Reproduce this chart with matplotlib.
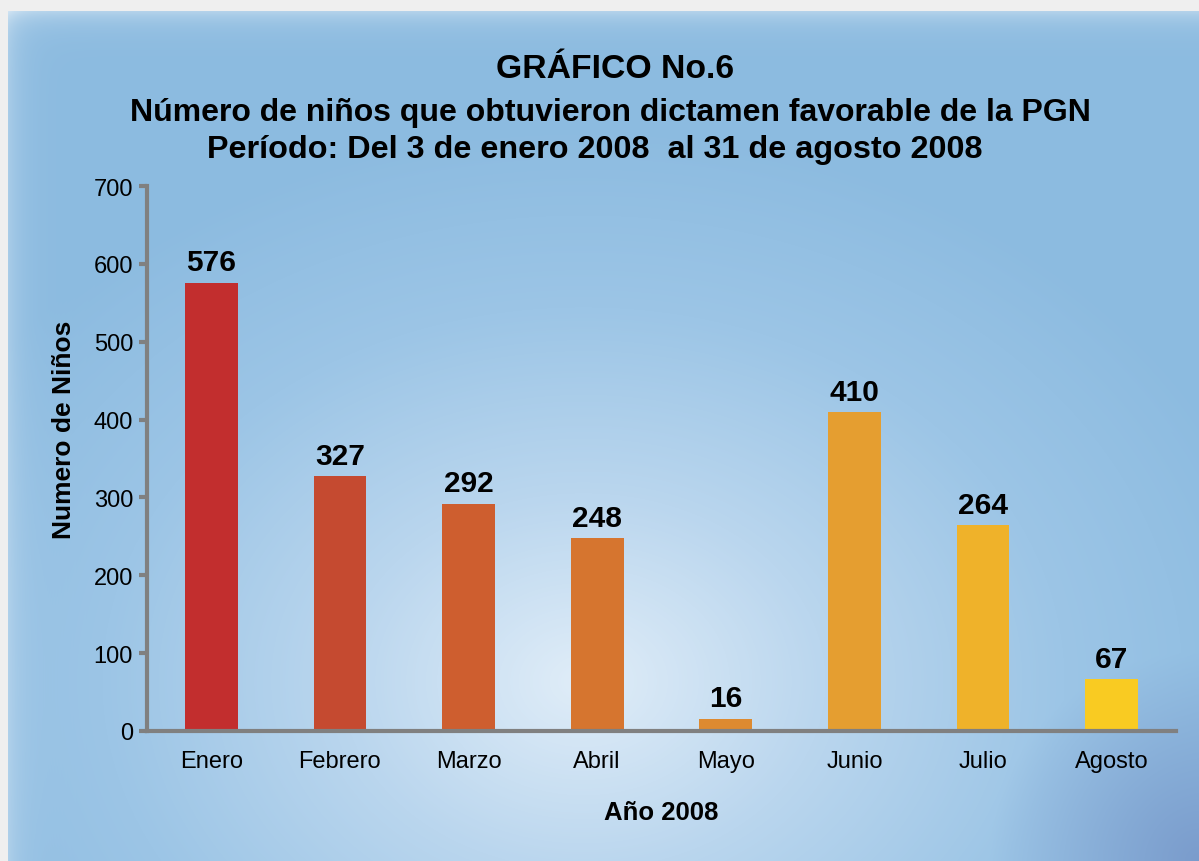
import numpy as np
import matplotlib.pyplot as plt
from matplotlib.colors import LinearSegmentedColormap

plt.rcParams['font.family'] = ['Liberation Sans', 'DejaVu Sans']

meses = ['Enero', 'Febrero', 'Marzo', 'Abril', 'Mayo', 'Junio', 'Julio', 'Agosto']
ninos = [576, 327, 292, 248, 16, 410, 264, 67]
colores = ['#C22E2E', '#C54A30', '#CE5E2F', '#D6752F', '#DD8A30', '#E59E30', '#EFB22A', '#F9CB22']
yticks = [0, 100, 200, 300, 400, 500, 600, 700]

W, H = 1199, 862
fig = plt.figure(figsize=(W / 100, H / 100), dpi=100)
fig.patch.set_facecolor('#EFEFEF')

# background panel with radial gradient
bg = fig.add_axes([8 / W, 0, 1 - 8 / W, 1 - 12 / H])
bg.set_axis_off()
h, w = 850, 1191
yy, xx = np.mgrid[0:h, 0:w]
cx, cy = 575, 670
d = np.sqrt(((xx - cx) / 720.0) ** 2 + ((yy - cy) / 560.0) ** 2)
d = np.clip(d, 0, 1)
cmap = LinearSegmentedColormap.from_list('fondo', ['#E0EDF8', '#BAD6EE', '#9CC5E6', '#8CBBE0'])
img = cmap(d)[..., :3]
# slightly darker bottom-right corner
br = np.clip(((xx - w) ** 2 + (yy - h) ** 2) ** 0.5 / 210.0, 0, 1)
corner = np.array([0.48, 0.61, 0.80])
img = img * br[..., None] + corner * (1 - br[..., None])
# lighter bevel on top and left edges
edge = np.exp(-yy / 12.0) * 0.35 + np.exp(-xx / 14.0) * 0.25
img = img + (1 - img) * np.clip(edge, 0, 1)[..., None]
bg.imshow(img, aspect='auto', extent=[0, 1, 0, 1])
bg.set_xlim(0, 1)
bg.set_ylim(0, 1)

ax = fig.add_axes([147 / W, 1 - 732 / H, (1176 - 147) / W, (732 - 187) / H])
ax.patch.set_alpha(0)
x = np.arange(len(meses))
ax.bar(x, ninos, width=0.41, color=colores, zorder=2)
for xi, v in zip(x, ninos):
    ax.text(xi, v + 8, str(v), ha='center', va='bottom', fontsize=21.5, fontweight='bold', color='black')

ax.set_xlim(-0.5, 7.5)
ax.set_ylim(0, 700)
ax.set_yticks(yticks)
ax.set_xticks(x)
ax.set_xticklabels(meses, fontsize=17)
ax.tick_params(axis='y', labelsize=17, length=6, width=3, color='#808080', pad=4)
ax.tick_params(axis='x', length=0, pad=14)
for s in ['top', 'right']:
    ax.spines[s].set_visible(False)
for s in ['left', 'bottom']:
    ax.spines[s].set_color('#808080')
    ax.spines[s].set_linewidth(3)

ax.set_ylabel('Numero de Niños', fontsize=19, fontweight='bold')
ax.yaxis.set_label_coords(-0.069, 0.555)
ax.set_xlabel('Año 2008', fontsize=18.5, fontweight='bold', labelpad=20)

fig.text(615 / W, 1 - 70 / H, 'GRÁFICO No.6', ha='center', va='center', fontsize=24.3, fontweight='bold')
fig.text(610 / W, 1 - 113 / H, 'Número de niños que obtuvieron dictamen favorable de la PGN',
         ha='center', va='center', fontsize=23, fontweight='bold')
fig.text(595 / W, 1 - 150 / H, 'Período: Del 3 de enero 2008  al 31 de agosto 2008',
         ha='center', va='center', fontsize=23.3, fontweight='bold')

fig.savefig('out.png', dpi=100)
